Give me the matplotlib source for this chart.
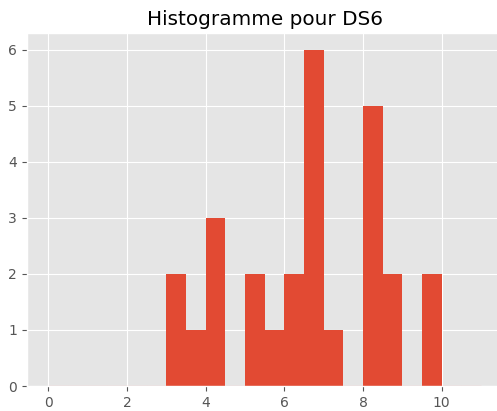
import matplotlib
matplotlib.use('Agg')
import matplotlib.pyplot as plt
import numpy as np

plt.style.use('ggplot')

# bornes des classes (largeur 0.5) et effectifs
bin_edges = [0, 0.5, 1, 1.5, 2, 2.5, 3, 3.5, 4, 4.5, 5, 5.5, 6, 6.5, 7, 7.5, 8, 8.5, 9, 9.5, 10, 10.5, 11]
counts = [0, 0, 0, 0, 0, 0, 2, 1, 3, 0, 2, 1, 2, 6, 1, 0, 5, 2, 0, 2, 0, 0]

centers = [(bin_edges[i] + bin_edges[i + 1]) / 2 for i in range(len(counts))]

fig = plt.figure(figsize=(4.97, 4.11), dpi=100)
# l'axe dépasse un peu à droite comme sur l'original
ax = fig.add_axes([26.7 / 497, 25 / 411, 476 / 497, 353 / 411])
n, b, patches = ax.hist(centers, bins=bin_edges, weights=counts)
for p, c in zip(patches, counts):
    if c == 0:
        p.set_edgecolor((0.886, 0.29, 0.2, 0.3))
        p.set_linewidth(1.0)
ax.set_title('Histogramme pour DS6')
plt.savefig('out.png')
